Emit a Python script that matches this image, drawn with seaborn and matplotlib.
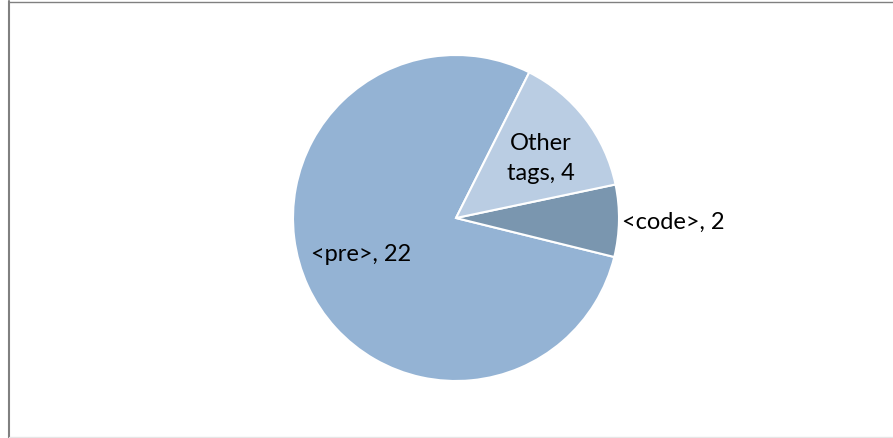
import numpy as np
import matplotlib
matplotlib.use("Agg")
import matplotlib.pyplot as plt
import seaborn as sns
from matplotlib.lines import Line2D

categories = ["<pre>", "<code>", "Other tags"]
values = [22, 2, 4]
label_texts = ["<pre>, 22", "<code>, 2", "Other\ntags, 4"]
colors = ["#94B3D4", "#7A96AF", "#BACDE3"]

sns.set_theme(style="white")
plt.rcParams['font.family'] = ['Lato', 'DejaVu Sans']

fig = plt.figure(figsize=(8.93, 4.39), dpi=100)
cx, cy, r = 456, 219, 163
W, H = 893, 439
ax = fig.add_axes([(cx - r) / W, (H - cy - r) / H, 2 * r / W, 2 * r / H])

wedges, _ = ax.pie(values, colors=colors, startangle=63.3, counterclock=True,
                   wedgeprops=dict(edgecolor="white", linewidth=1.5))
ax.set_xlim(-1, 1)
ax.set_ylim(-1, 1)
ax.set_aspect("equal")
ax.axis("off")

fs = 17
for w, txt, cat in zip(wedges, label_texts, categories):
    mid = np.deg2rad((w.theta1 + w.theta2) / 2)
    if cat == "<code>":
        ax.text(1.02 * np.cos(mid), 1.02 * np.sin(mid), txt, ha="left", va="center",
                fontsize=fs, color="black")
    elif cat == "<pre>":
        ax.text(0.62 * np.cos(mid - np.deg2rad(4)), 0.62 * np.sin(mid - np.deg2rad(4)), txt,
                ha="center", va="center", fontsize=fs, color="black")
    else:
        ax.text(0.64 * np.cos(mid - np.deg2rad(2)), 0.64 * np.sin(mid - np.deg2rad(2)), txt,
                ha="center", va="center", fontsize=fs, color="black", linespacing=1.5)

fig.add_artist(Line2D([9 / W, 9 / W], [0, 1 - 2 / H], transform=fig.transFigure,
                      color="#808080", linewidth=1.5))
fig.add_artist(Line2D([9 / W, 1], [1 - 2.5 / H, 1 - 2.5 / H], transform=fig.transFigure,
                      color="#808080", linewidth=1.0))
fig.add_artist(Line2D([9 / W, 1], [1.5 / H, 1.5 / H], transform=fig.transFigure,
                      color="#E6E6E6", linewidth=1.0))

fig.savefig("out.png", dpi=100)
